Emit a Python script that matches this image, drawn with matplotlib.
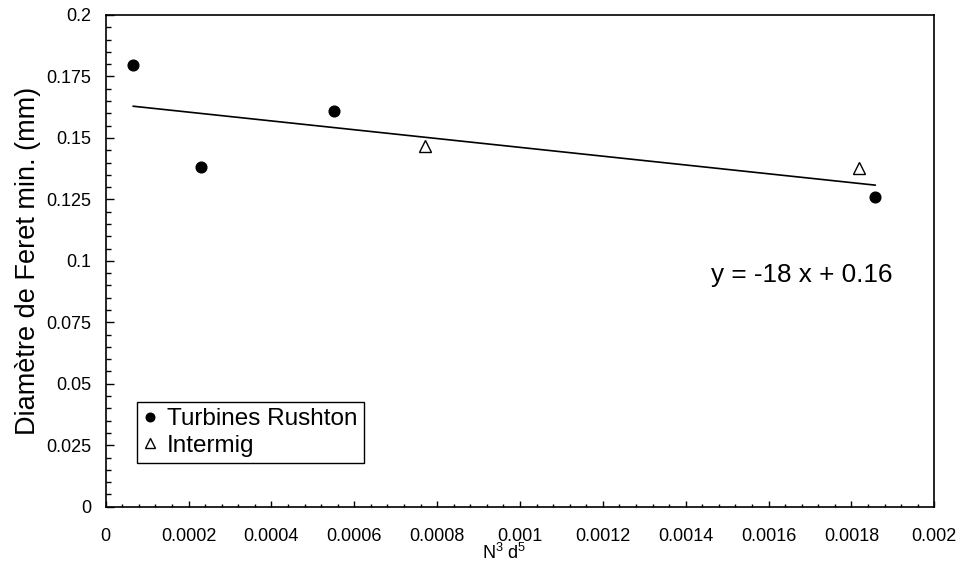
import numpy as np
import matplotlib
matplotlib.use("Agg")
import matplotlib.pyplot as plt
from matplotlib.ticker import FixedLocator, MultipleLocator

plt.rcParams['font.family'] = ['Liberation Sans', 'DejaVu Sans']
plt.rcParams['mathtext.fontset'] = 'custom'
plt.rcParams['mathtext.rm'] = 'Liberation Sans'
plt.rcParams['mathtext.it'] = 'Liberation Sans:italic'

# Rushton turbines
rushton_x = [0.0000666, 0.000231, 0.00055, 0.001857]
rushton_y = [0.1797, 0.1382, 0.161, 0.1261]
# Intermig impellers
intermig_x = [0.000771, 0.001818]
intermig_y = [0.1467, 0.1379]

x_ticks = [0, 0.0002, 0.0004, 0.0006, 0.0008, 0.001, 0.0012, 0.0014, 0.0016, 0.0018, 0.002]
x_tick_labels = ["0", "0.0002", "0.0004", "0.0006", "0.0008", "0.001", "0.0012",
                 "0.0014", "0.0016", "0.0018", "0.002"]
y_ticks = [0, 0.025, 0.05, 0.075, 0.1, 0.125, 0.15, 0.175, 0.2]
y_tick_labels = ["0", "0.025", "0.05", "0.075", "0.1", "0.125", "0.15", "0.175", "0.2"]

fig = plt.figure(figsize=(9.59, 5.74), dpi=100)
ax = fig.add_axes([0.1102, 0.1172, 0.8641, 0.8567])

# linear trend through all measurements
all_x = np.array(rushton_x + intermig_x)
all_y = np.array(rushton_y + intermig_y)
slope, intercept = np.polyfit(all_x, all_y, 1)
fx = np.array([all_x.min(), all_x.max()])
ax.plot(fx, slope * fx + intercept, color='black', lw=1.2, zorder=2)

ax.plot(rushton_x, rushton_y, linestyle='none', marker='o', ms=7.7,
        mfc='black', mec='black', label='Turbines Rushton', zorder=3)
ax.plot(intermig_x, intermig_y, linestyle='none', marker='^', ms=8.4,
        mfc='white', mec='black', mew=1.0, label='Intermig', zorder=3)

ax.text(0.00168, 0.0942, f"y = {slope:.0f} x + {intercept:.2f}", fontsize=18.8,
        ha='center', va='center')

ax.set_xlim(0, 0.002)
ax.set_ylim(0, 0.2)
ax.xaxis.set_major_locator(FixedLocator(x_ticks))
ax.set_xticklabels(x_tick_labels)
ax.yaxis.set_major_locator(FixedLocator(y_ticks))
ax.set_yticklabels(y_tick_labels)
ax.xaxis.set_minor_locator(MultipleLocator(0.00004))
ax.yaxis.set_minor_locator(MultipleLocator(0.005))

ax.tick_params(which='both', direction='in', top=False, right=False, width=1.0, color='black')
ax.tick_params(axis='y', which='major', length=5.5, pad=10.5, labelsize=13)
ax.tick_params(axis='y', which='minor', length=3.5)
ax.tick_params(axis='x', which='major', length=4.5, pad=15, labelsize=13)
ax.tick_params(axis='x', which='minor', length=2.5)

for sp in ax.spines.values():
    sp.set_linewidth(1.2)
    sp.set_color('black')

ax.set_xlabel(r"N$^3$ d$^5$", fontsize=13)
ax.xaxis.set_label_coords(0.4807, -0.073)
ax.set_ylabel("Diamètre de Feret min. (mm)", fontsize=19.5)
ax.yaxis.set_label_coords(-0.078, 0.5)

leg = ax.legend(loc='upper left', bbox_to_anchor=(136.7 / 959, 1 - 402 / 574),
                bbox_transform=fig.transFigure, fontsize=17.5, frameon=True,
                fancybox=False, edgecolor='black', framealpha=1,
                handlelength=0.6, handletextpad=0.4, borderpad=0.25,
                labelspacing=0.2, borderaxespad=0, markerscale=0.8)
leg.get_frame().set_linewidth(1.0)

fig.savefig("out.png", dpi=100)
